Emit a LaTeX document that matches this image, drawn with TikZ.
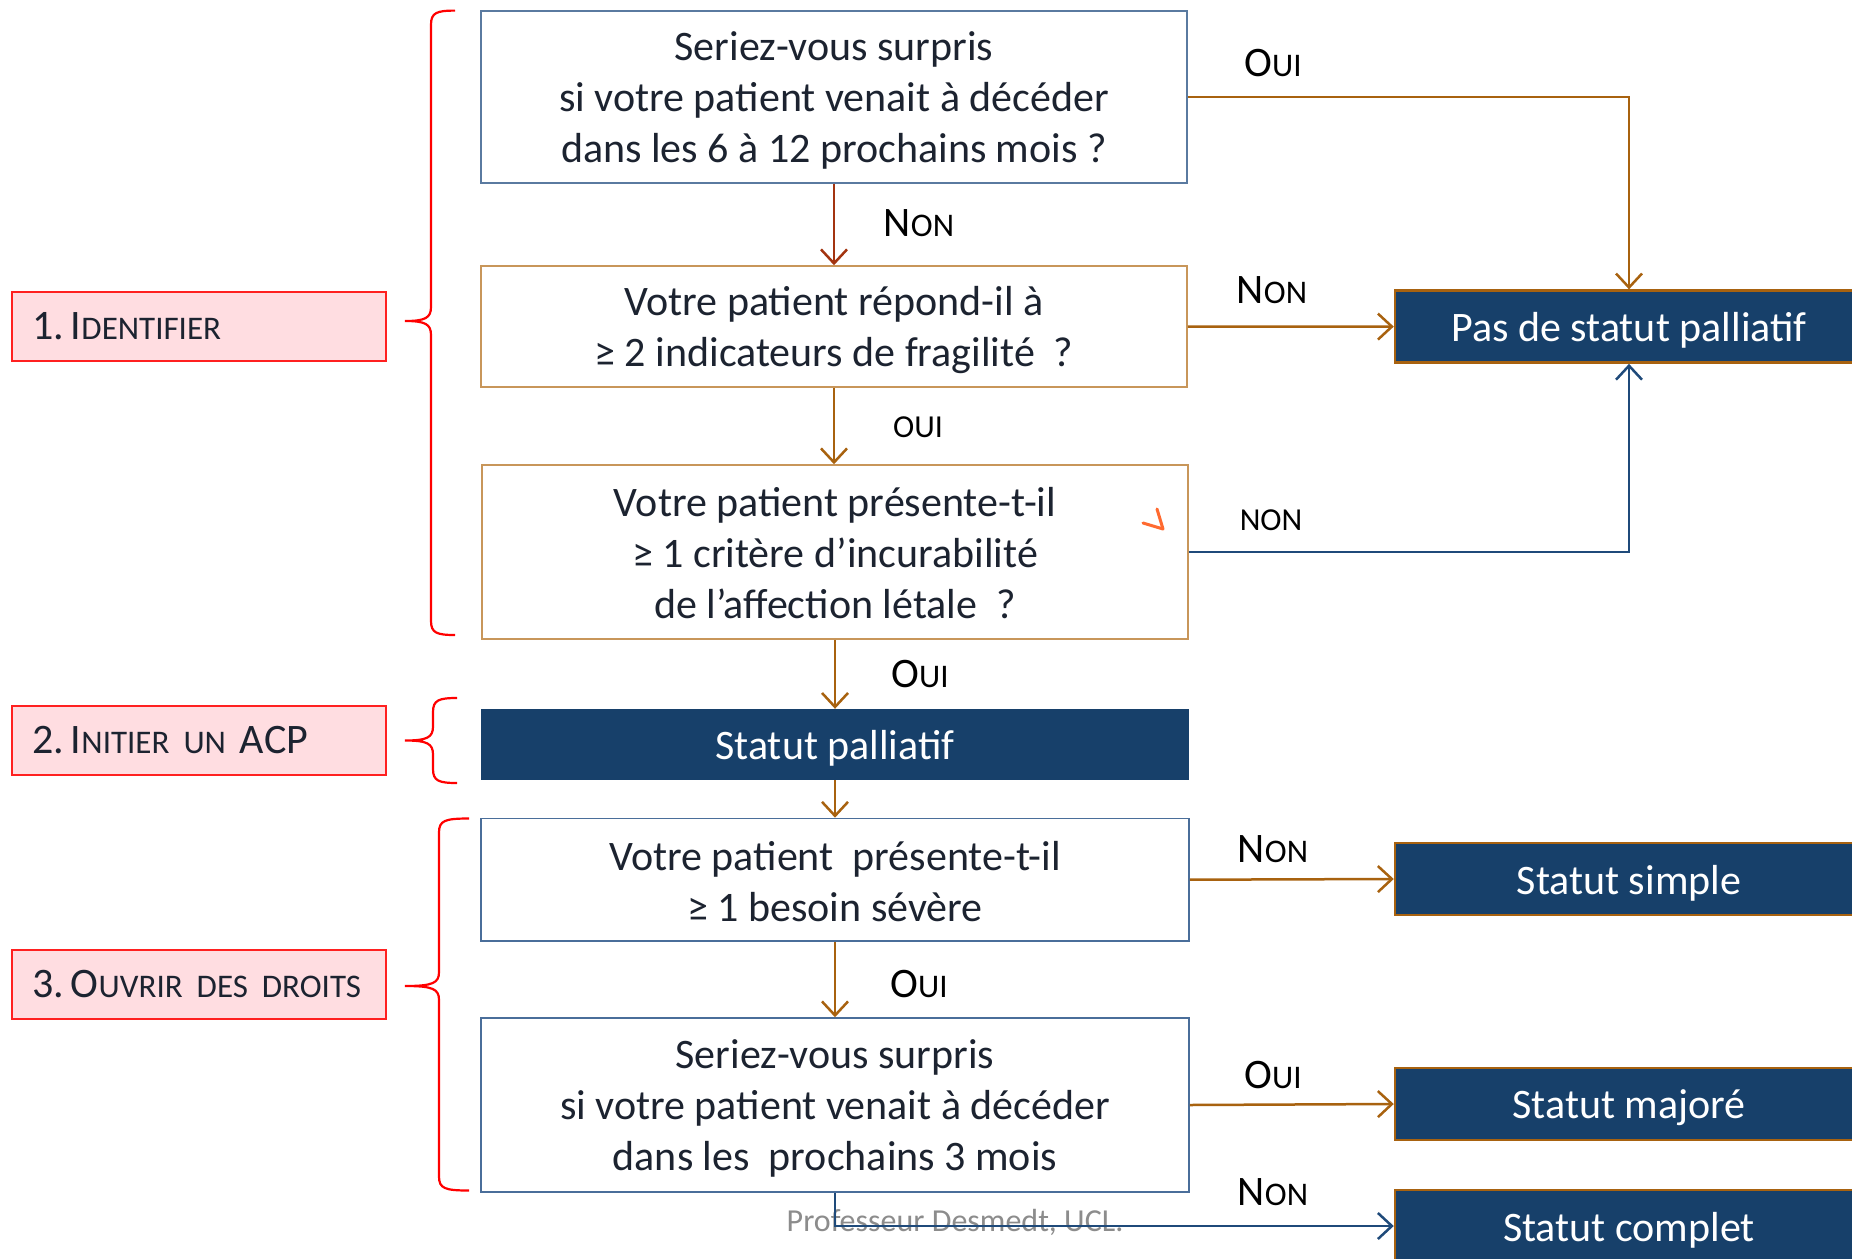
\documentclass[tikz,border=0pt]{standalone}
\usepackage{fontspec}
\setmainfont{Carlito}
\usetikzlibrary{arrows.meta}
\definecolor{navy}{HTML}{17406A}
\definecolor{txt}{HTML}{1C2330}
\definecolor{bluegray}{HTML}{5A7AA0}
\definecolor{tan}{HTML}{C8965A}
\definecolor{blueb}{HTML}{4A6E9A}
\definecolor{brownb}{HTML}{A8620F}
\definecolor{redarr}{HTML}{A33410}
\definecolor{darkarr}{HTML}{1F4A7A}
\definecolor{pinkf}{HTML}{FFDDE1}
\definecolor{redb}{HTML}{FF2020}
\definecolor{markc}{HTML}{FF6A30}
\definecolor{wm}{HTML}{8C8C8C}
\newcommand\mainsz{\fontsize{42}{51}\selectfont}
\newcommand\smsz{\fontsize{33}{40}\selectfont}
\newcommand\fsc[2]{#1{\smsz #2}}
\newcommand\redbrace[6]{%
  \draw[bracestyle] (#1,#4) .. controls ({#2+6},#4) and (#2,{#4+2}) .. (#2,{#4+14})
    -- (#2,{#5-14}) .. controls (#2,{#5-3}) and ({#2-6},#5) .. (#3,#5)
    .. controls ({#2-6},#5) and (#2,{#5+3}) .. (#2,{#5+14})
    -- (#2,{#6-14}) .. controls (#2,{#6-2}) and ({#2+6},#6) .. (#1,#6);}
\begin{document}
\begin{tikzpicture}[x=1pt,y=-1pt,
  qbox/.style={draw=#1, line width=1.5pt, fill=white, minimum width=706pt, inner sep=0pt},
  qtxt/.style={text=txt, align=center, font=\mainsz, inner sep=0pt},
  wtxt/.style={text=white, font=\mainsz, inner sep=0pt},
  res/.style={draw=brownb, line width=2.5pt, fill=navy,
    minimum width=468pt, minimum height=72pt, inner sep=0pt},
  lab/.style={draw=redb, line width=2pt, fill=pinkf, text=txt, font=\mainsz,
    text width=334pt, inner xsep=20pt, inner ysep=0pt, minimum height=69pt, align=left},
  yn/.style={text=black, font=\mainsz, inner sep=0pt},
  arr/.style={line width=2.5pt, draw=#1, -{Straight Barb[length=14pt,width=26pt,line width=2.5pt]}},
  bracestyle/.style={draw=red, line width=2.2pt}]
\clip (0,0) rectangle (1852,1258);
\fill[white] (0,0) rectangle (1852,1258);
% question boxes
\node[qbox=bluegray, minimum height=172pt] (b1) at (834,96.8) {};
\node[qtxt] (b1t) at ([yshift=-3.5pt]b1.center)
  {Seriez-vous surpris\\si votre patient venait à décéder\\dans les 6 à 12 prochains mois ?};
\node[qbox=tan, minimum height=121pt] (b2) at (834,326.5) {};
\node[qtxt] (b2t) at ([yshift=-4pt]b2.center)
  {Votre patient répond-il à\\≥ 2 indicateurs de fragilité\ \ ?};
\node[qbox=tan, minimum height=174pt] (b3) at (835,552) {};
\node[qtxt] (b3t) at ([yshift=-1.5pt]b3.center)
  {Votre patient présente-t-il\\≥ 1 critère d’incurabilité\\de l’affection létale\ \ ?};
\node[fill=navy, minimum width=708pt, minimum height=71pt, inner sep=0pt] (sp) at (835,744.5) {};
\node[wtxt] (spt) at ([yshift=-3.5pt]sp.center) {Statut palliatif};
\node[qbox=blueb, minimum width=708pt, minimum height=122.5pt] (b4) at (835,879.7) {};
\node[qtxt] (b4t) at ([yshift=-2pt]b4.center)
  {Votre patient\ \ présente-t-il\\≥ 1 besoin sévère};
\node[qbox=blueb, minimum width=708pt, minimum height=174pt] (b5) at (835,1105) {};
\node[qtxt] (b5t) at ([yshift=-3.5pt]b5.center)
  {Seriez-vous surpris\\si votre patient venait à décéder\\dans les\ \ prochains 3 mois};
% result boxes
\node[res] (pas) at (1629,326.6) {};
\node[wtxt] (past) at ([yshift=-3.5pt]pas.center) {Pas de statut palliatif};
\node[res] (simple) at (1629,879) {};
\node[wtxt] (simplet) at ([yshift=-4pt]simple.center) {Statut simple};
\node[res] (maj) at (1629,1104) {};
\node[wtxt] (majt) at ([yshift=-4pt]maj.center) {Statut majoré};
\node[res] (compl) at (1629,1226) {};
\node[wtxt] (complt) at ([yshift=-4pt]compl.center) {Statut complet};
% left labels
\node[lab] (l1) at (199,326.5) {1.\hspace{7pt}I\fsc{}{DENTIFIER}};
\node[lab] (l2) at (199,740) {2.\hspace{7pt}I\fsc{}{NITIER UN} ACP};
\node[lab] (l3) at (199,984.5) {3.\hspace{7pt}O\fsc{}{UVRIR DES DROITS}};
% braces
\redbrace{455}{431}{405}{10.6}{321}{635}
\redbrace{457}{433}{405}{698}{740.5}{783}
\redbrace{469}{439}{405}{818.5}{986}{1190.5}
% watermark
\node[text=wm, font=\fontsize{32}{38}\selectfont, inner sep=0pt] (wmk) at (955,1222) {Professeur Desmedt, UCL.};
% connectors
\draw[arr=redarr] (b1.south) -- (b2.north);
\draw[arr=brownb] (b1.east) -| (pas.north);
\draw[arr=brownb] (b2.east) -- (pas.west);
\draw[arr=brownb] (b2.south) -- (b2.south |- b3.north);
\draw[arr=darkarr] (b3.east) -| (pas.south);
\draw[arr=brownb] (b3.south) -- (sp.north);
\draw[arr=brownb] (sp.south) -- (b4.north);
\draw[arr=brownb] (b4.east) -- (simple.west);
\draw[arr=brownb] (b4.south) -- (b5.north);
\draw[arr=brownb] (b5.east) -- (maj.west);
\draw[arr=darkarr] (b5.south) |- (compl.west);
% yes/no labels
\node[yn] (t1) at (919,223) {N\fsc{}{ON}};
\node[yn] (t2) at (1273,62.6) {O\fsc{}{UI}};
\node[yn] (t3) at (1272,290.5) {N\fsc{}{ON}};
\node[yn, font=\fontsize{32}{38}\selectfont] (t4) at (918,427) {OUI};
\node[yn, font=\fontsize{32}{38}\selectfont] (t5) at (1271,520.5) {NON};
\node[yn] (t6) at (920,674) {O\fsc{}{UI}};
\node[yn] (t7) at (1273,849) {N\fsc{}{ON}};
\node[yn] (t8) at (919,984) {O\fsc{}{UI}};
\node[yn] (t9) at (1273,1075) {O\fsc{}{UI}};
\node[yn] (t10) at (1273,1192) {N\fsc{}{ON}};
% small orange mark
\draw[markc, line width=3pt, line cap=round, line join=round] (1143,523) -- (1163,529) -- (1157,509);
\end{tikzpicture}
\end{document}
